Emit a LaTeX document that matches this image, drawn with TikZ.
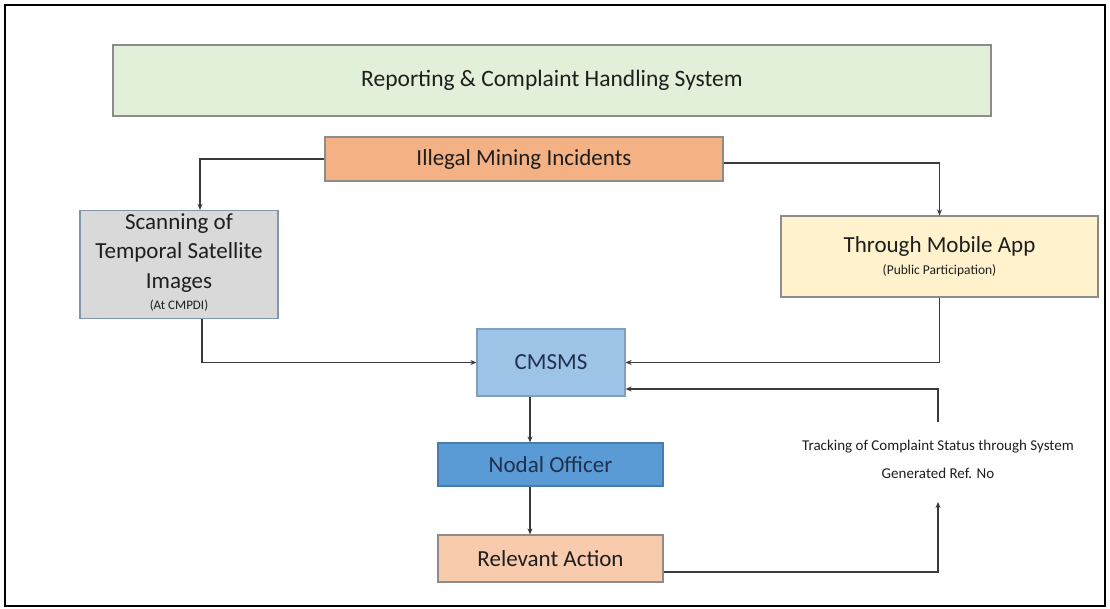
\documentclass[tikz,border=0pt]{standalone}
\usepackage{fontspec}
\setmainfont{Carlito}
\usetikzlibrary{arrows.meta,calc}
\definecolor{titlefill}{HTML}{E2F0D9}
\definecolor{illfill}{HTML}{F4B183}
\definecolor{scanfill}{HTML}{D9D9D9}
\definecolor{mobfill}{HTML}{FFF2CC}
\definecolor{cmsfill}{HTML}{9DC3E6}
\definecolor{nodfill}{HTML}{5B9BD5}
\definecolor{relfill}{HTML}{F8CBAD}
\definecolor{boxline}{HTML}{8C8C8C}
\definecolor{blueline}{HTML}{7F9FBF}
\definecolor{txt}{HTML}{1E1E1E}
\definecolor{navy}{HTML}{1F3050}
\definecolor{arrcol}{HTML}{3A3A3A}
\tikzset{
  box/.style={draw=boxline, line width=1.2pt, inner sep=0pt, text=txt, align=center},
  big/.style={font=\fontsize{23}{29.5}\selectfont},
  arr/.style={draw=arrcol, line width=1.5pt, -{Stealth[length=6pt,width=5pt]}},
}
\begin{document}
\begin{tikzpicture}[x=1pt,y=-1pt]
\useasboundingbox (0,0) rectangle (1110,609);
\fill[white] (0,0) rectangle (1110,609);
\draw[line width=2.8pt, black] (5,5) rectangle (1105,606);

\node[box, big, fill=titlefill, minimum width=878pt, minimum height=71pt, font=\fontsize{23.5}{28}\selectfont] (title) at (552,80.5) {Reporting \& Complaint Handling System};

\node[box, big, fill=illfill, minimum width=398pt, minimum height=44pt] (illegal) at (524,159) {Illegal Mining Incidents};

\node[box, big, fill=scanfill, draw=blueline!70!gray, minimum width=198pt, minimum height=108pt] (scan) at (179,264.5)
  {\mbox{}\\[-18pt] Scanning of\\ Temporal Satellite\\ Images\\[-8pt] {\fontsize{13}{14}\selectfont (At CMPDI)}};

\node[box, big, fill=mobfill, minimum width=317pt, minimum height=81pt] (mobile) at (939.5,256.5)
  {Through Mobile App\\[-7pt] {\fontsize{13.5}{15}\selectfont (Public Participation)}};

\node[box, big, fill=cmsfill, draw=blueline, minimum width=148pt, minimum height=67pt, text=navy] (cmsms) at (551,362.5) {CMSMS};

\node[box, big, fill=nodfill, draw=nodfill!80!black, minimum width=225pt, minimum height=43pt, text=navy] (nodal) at (550.5,464.5) {Nodal Officer};

\node[box, big, fill=relfill, minimum width=225pt, minimum height=47pt] (relevant) at (550.5,558.5) {Relevant Action};

\node[text=txt, align=center, inner sep=0pt, font=\fontsize{15}{28}\selectfont] (track) at (938,459) {Tracking of Complaint Status through System\\ Generated Ref. No};

\coordinate (x200) at (200,0);
\coordinate (x202) at (202,0);
\coordinate (x530) at (530,0);
\coordinate (ttop) at (938,422);
\coordinate (tbot) at (938,502);

\draw[arr] (illegal.west) -| (scan.north -| x200);
\draw[arr] ([yshift=-4pt]illegal.east) -| (mobile.north);
\draw[arr] (scan.south -| x202) |- (cmsms.west);
\draw[arr] (mobile.south) |- (cmsms.east);
\draw[arr] (ttop) |- ([yshift=-26.5pt]cmsms.east);
\draw[arr] (cmsms.south -| x530) -- (nodal.north -| x530);
\draw[arr] (nodal.south -| x530) -- (relevant.north -| x530);
\draw[arr] ([yshift=-13.5pt]relevant.east) -| (tbot);
\end{tikzpicture}
\end{document}
